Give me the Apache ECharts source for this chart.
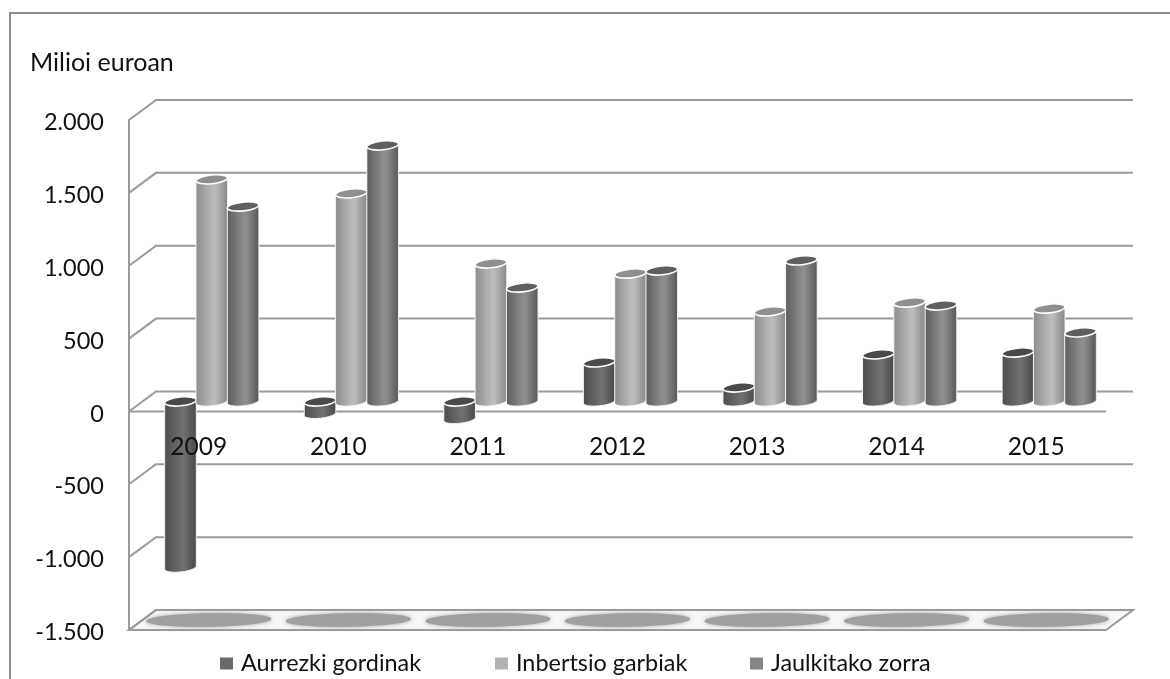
<!DOCTYPE html>
<html>
<head>
<meta charset="utf-8">
<style>html,body{margin:0;padding:0;background:#fff}#c{width:1170px;height:679px}</style>
<script src="https://cdn.jsdelivr.net/npm/echarts@6/dist/echarts.min.js"></script>
</head>
<body>
<div id="c"></div>
<script>
const years = ['2009','2010','2011','2012','2013','2014','2015'];
const aurrezkiGordinak = [-1140, -85, -120, 268, 96, 323, 336];
const inbertsioGarbiak = [1524, 1428, 947, 878, 618, 679, 638];
const jaulkitakoZorra = [1338, 1757, 782, 899, 968, 659, 474];
const yTicks = [-1500, -1000, -500, 0, 500, 1000, 1500, 2000];
const yTickLabels = ['-1.500', '-1.000', '-500', '0', '500', '1.000', '1.500', '2.000'];
const seriesNames = ['Aurrezki gordinak', 'Inbertsio garbiak', 'Jaulkitako zorra'];
const legendColors = ['#696969', '#b2b2b2', '#858585'];
const legendLefts = [215, 490, 745];

const FONT = 'Lato';
const LINE = '#9a9a9a';
const DX = 27, DY = -20;            // depth of the back wall
const BAR_DX = 13, BAR_DY = -10;    // bars stand half way back
const BAR_STEP = 31.3, RX = 15.8, RY = 4.4, TILT = 1.6, ARC_STEPS = 16;
const sideStops = [
  [['#4c4c4c',0],['#6c6c6c',.5],['#707070',.6],['#474747',1]],
  [['#8c8c8c',0],['#b8b8b8',.5],['#bcbcbc',.6],['#858585',1]],
  [['#5c5c5c',0],['#8b8b8b',.5],['#8e8e8e',.6],['#555555',1]]
];
const capFill = ['#4a4a4a', '#8f8f8f', '#5f5f5f'];

function grad(stops){
  return {type:'linear',x:0,y:0,x2:1,y2:0,colorStops:stops.map(s=>({color:s[0],offset:s[1]}))};
}

function barRenderer(k){
  return function(params, api){
    const i = api.value(0), v = api.value(1);
    const pv = api.coord([i, v]), p0 = api.coord([i, 0]);
    const cx = pv[0] + BAR_DX + (k - 1) * BAR_STEP;
    const yTop = Math.min(pv[1], p0[1]) + BAR_DY;
    const yBot = Math.max(pv[1], p0[1]) + BAR_DY;
    const pts = [[cx + RX, yTop - TILT], [cx - RX, yTop + TILT]];
    for (let n = 0; n <= ARC_STEPS; n++) {
      const t = Math.PI * n / ARC_STEPS;
      const ox = -RX * Math.cos(t);
      pts.push([cx + ox, yBot + RY * Math.sin(t) - TILT * ox / RX]);
    }
    return {
      type: 'group',
      children: [
        {type:'polygon', shape:{points:pts},
         style:{fill:grad(sideStops[k]), stroke:'#f2f2f2', lineWidth:1}},
        {type:'ellipse', shape:{cx:0, cy:0, rx:RX, ry:RY}, x:cx, y:yTop, rotation:Math.atan2(TILT, RX),
         style:{fill:capFill[k], stroke:'#ffffff', lineWidth:1.6}}
      ]
    };
  };
}

function wallRenderer(params, api){
  const cs = params.coordSys;
  const y = api.coord([0, api.value(1)])[1];
  const kids = [{type:'polyline', shape:{points:[[cs.x, y],[cs.x+DX, y+DY],[cs.x+cs.width+DX, y+DY]]},
    style:{fill:'none', stroke:LINE, lineWidth:2}}];
  if (api.value(1) === 0) {
    kids.push({type:'line', shape:{x1:cs.x, y1:y, x2:cs.x+cs.width, y2:y}, style:{stroke:LINE, lineWidth:2}});
  }
  if (params.dataIndex === 0) {
    kids.unshift({type:'polygon', shape:{points:[[cs.x,y],[cs.x+DX,y+DY],[cs.x+cs.width+DX,y+DY],[cs.x+cs.width,y]]},
      style:{fill:'#f6f6f6', stroke:LINE, lineWidth:2}});
  }
  return {type:'group', children:kids};
}

// skewed ellipse lying on the floor
function shadowRenderer(params, api){
  const p = api.coord([api.value(0), api.value(1)]);
  const cx = p[0] + 10, cy = p[1] + DY / 2;
  const a = 62, b = 7, s = -DX / DY;
  const pts = [];
  for (let n = 0; n < 48; n++) {
    const t = 2 * Math.PI * n / 48;
    const x = a * Math.cos(t), y = b * Math.sin(t);
    pts.push([cx + x - y * s, cy + y]);
  }
  return {type:'polygon', shape:{points:pts},
    style:{fill:'#a0a0a0', shadowBlur:4, shadowColor:'#a8a8a8'}};
}

const barData = [aurrezkiGordinak, inbertsioGarbiak, jaulkitakoZorra];
const floorValue = yTicks[0];

const chart = echarts.init(document.getElementById('c'), null, {renderer:'canvas'});
chart.setOption({
  animation: false,
  backgroundColor: '#ffffff',
  textStyle: {fontFamily: FONT},
  title: {text:'Milioi euroan', left:25, top:45, textStyle:{fontFamily:FONT, fontSize:25, fontWeight:'normal', color:'#111'}},
  legend: seriesNames.map((name,k)=>({
    data:[name], left:legendLefts[k], top:647, itemWidth:13, itemHeight:12, icon:'rect',
    textStyle:{fontFamily:FONT, fontSize:23.4, color:'#111', padding:[0,0,0,3]}
  })),
  grid: {left:129, right:64, top:120, bottom:49},
  xAxis: {
    type:'category', data:years, z:10,
    axisLine:{show:false}, axisTick:{show:false},
    axisLabel:{margin:-195, fontFamily:FONT, fontSize:24.5, color:'#111'}
  },
  yAxis: {
    type:'value', min:-1500, max:2000, interval:500,
    splitLine:{show:false}, axisTick:{show:false},
    axisLine:{show:true, lineStyle:{color:LINE, width:2}},
    axisLabel:{margin:25, fontFamily:FONT, fontSize:23.5, color:'#111',
      rich:{t:{fontFamily:FONT, fontSize:23.5, color:'#111', padding:[5,0,0,0]}},
      formatter:v=>'{t|'+yTickLabels[yTicks.indexOf(v)]+'}'}
  },
  graphic: [
    {type:'polyline', shape:{points:[[10,679],[10,13],[1170,13]]}, style:{fill:'none', stroke:'#8c8c8c', lineWidth:2}, silent:true}
  ],
  series: [
    {type:'custom', name:'walls', z:1, silent:true, clip:false, renderItem:wallRenderer,
     encode:{x:0,y:1}, data:yTicks.map(t=>[0,t])},
    {type:'custom', name:'floorShadow', z:1, silent:true, clip:false, renderItem:shadowRenderer,
     encode:{x:0,y:1}, data:years.map((y,i)=>[i,floorValue])}
  ].concat(seriesNames.map((name,k)=>({
    type:'custom', name, z:2+k, clip:false, renderItem:barRenderer(k),
    itemStyle:{color:legendColors[k]}, encode:{x:0,y:1},
    data:barData[k].map((v,i)=>[i,v])
  })))
});
</script>
</body>
</html>
